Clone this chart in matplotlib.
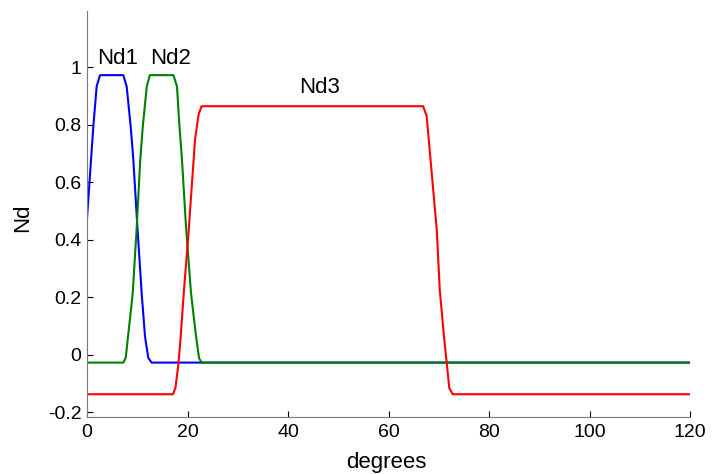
import numpy as np
import matplotlib.pyplot as plt

plt.rcParams["font.family"] = ["Liberation Sans", "DejaVu Sans"]
plt.rcParams["font.size"] = 14

# membership curves, read as (degrees, Nd) points
nd1_x = [0, 1.26, 1.92, 2.59, 7.23, 7.89, 8.69, 9.22, 10.02, 10.88, 11.54, 12.2, 12.87, 120]
nd1_y = [0.475, 0.794, 0.933, 0.972, 0.972, 0.933, 0.794, 0.678, 0.446, 0.214, 0.064, -0.011, -0.027, -0.027]

nd2_x = [0, 7.23, 7.7, 9.1, 9.9, 10.6, 11.1, 11.9, 12.5, 17.2, 17.9, 18.4, 18.9, 19.7, 20.7, 21.7, 22.3, 22.8, 120]
nd2_y = [-0.027, -0.027, -0.011, 0.214, 0.446, 0.678, 0.794, 0.933, 0.972, 0.972, 0.933, 0.794, 0.678, 0.446, 0.214, 0.064, -0.011, -0.027, -0.027]

nd3_x = [0, 17.1, 17.6, 18.2, 18.6, 19.3, 20.2, 20.8, 21.5, 22.2, 22.8, 66.9, 67.6, 68.6, 69.6, 70.2, 71.1, 71.6, 72.1, 72.8, 120]
nd3_y = [-0.137, -0.137, -0.115, -0.03, 0.052, 0.226, 0.423, 0.574, 0.748, 0.835, 0.864, 0.864, 0.829, 0.632, 0.435, 0.226, 0.052, -0.03, -0.116, -0.137, -0.137]

labels = ["Nd1", "Nd2", "Nd3"]
label_x = [6.1, 16.6, 46.3]
label_y = [1.03, 1.03, 0.93]

fig = plt.figure(figsize=(7.12, 4.74), dpi=100)
ax = fig.add_axes([0.1222, 0.1209, 0.8469, 0.8559])

ax.plot(nd1_x, nd1_y, color=(0, 0, 1), lw=1.5)
ax.plot(nd2_x, nd2_y, color=(0, 0.5, 0), lw=1.5)
ax.plot(nd3_x, nd3_y, color=(1, 0, 0), lw=1.5)

for t, tx, ty in zip(labels, label_x, label_y):
    ax.text(tx, ty, t, ha="center", va="center", fontsize=16)

ax.set_xlim(0, 120)
ax.set_ylim(-0.215, 1.195)
ax.set_xticks(np.arange(0, 121, 20))
ax.set_yticks([-0.2, 0, 0.2, 0.4, 0.6, 0.8, 1])
ax.set_yticklabels(["-0.2", "0", "0.2", "0.4", "0.6", "0.8", "1"])

ax.spines["top"].set_visible(False)
ax.spines["right"].set_visible(False)
ax.spines["left"].set_color("#7a7a7a")
ax.spines["bottom"].set_color("#7a7a7a")
ax.tick_params(direction="in", length=4, width=0.8, color="black")
ax.tick_params(axis="x", pad=5.5)
ax.tick_params(axis="y", pad=4)

ax.set_xlabel("degrees", fontsize=16)
ax.xaxis.set_label_coords(0.496, -0.088)
ax.set_ylabel("Nd", fontsize=16)
ax.yaxis.set_label_coords(-0.09, 0.49)

fig.savefig("out.png", dpi=100)
